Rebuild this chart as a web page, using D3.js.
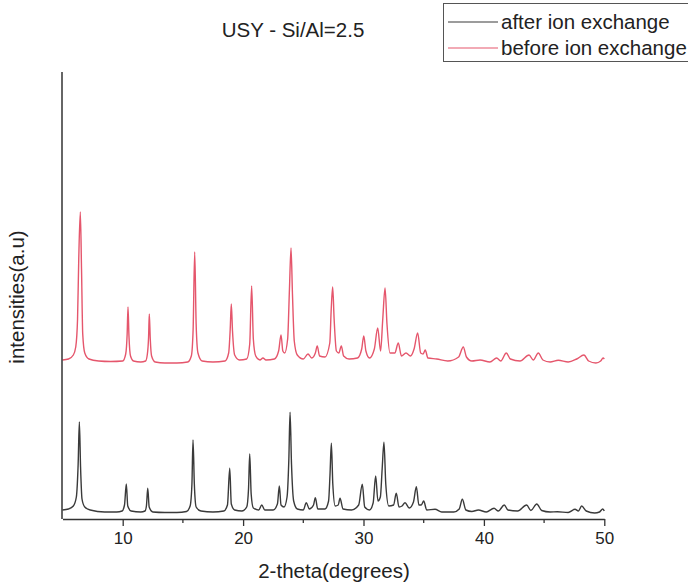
<!DOCTYPE html>
<html>
<head>
<meta charset="utf-8">
<script src="https://cdn.jsdelivr.net/npm/d3@7"></script>
<style>
  html, body { margin: 0; padding: 0; background: #ffffff; }
  svg { display: block; }
  text { font-family: "Liberation Sans", Arial, sans-serif; fill: #222; }
</style>
</head>
<body>
<svg id="chart" width="688" height="582"></svg>
<script>
// ---- data (2-theta in degrees, intensity in arbitrary units as plotted) ----
const title = "USY - Si/Al=2.5";
const xLabel = "2-theta(degrees)";
const yLabel = "intensities(a.u)";
const seriesNames = ["after ion exchange", "before ion exchange"];
const xTicks = [10, 20, 30, 40, 50];
const xMinorTicks = [15, 25, 35, 45];

// after ion exchange (black trace)
const afterIonExchange = [
  [5.0, 9], [5.5, 10], [5.9, 13], [6.15, 22], [6.3, 55], [6.4, 97], [6.5, 52], [6.62, 20], [6.85, 12], [7.3, 9],
  [8.5, 7], [9.5, 7], [9.95, 8], [10.15, 14], [10.3, 35], [10.42, 13], [10.7, 8], [11.5, 7], [11.85, 8], [11.97, 13],
  [12.08, 30.7], [12.2, 12], [12.5, 7], [13.5, 6.5], [14.5, 6.5], [15.3, 7.5], [15.6, 13], [15.75, 35], [15.84, 79], [15.95, 35],
  [16.1, 12], [16.5, 8], [17.5, 7], [18.4, 8], [18.7, 14], [18.89, 50.7], [19.02, 15], [19.3, 9], [19.9, 8], [20.3, 12],
  [20.45, 30], [20.55, 65], [20.67, 25], [20.85, 11], [21.3, 9], [21.55, 14], [21.8, 9], [22.5, 9], [22.85, 15], [23.01, 33],
  [23.15, 14], [23.4, 12], [23.65, 22], [23.8, 60], [23.9, 106.7], [24.02, 55], [24.2, 18], [24.5, 10], [25.0, 9], [25.25, 16.3],
  [25.5, 10], [25.85, 14], [26.0, 21.3], [26.2, 10], [26.8, 10], [27.1, 18], [27.22, 45], [27.33, 75.7], [27.45, 35], [27.65, 13],
  [27.9, 14], [28.05, 20.7], [28.3, 10], [29.0, 9], [29.6, 14], [29.9, 34.7], [30.1, 12], [30.5, 9], [30.8, 16], [31.01, 43],
  [31.2, 18], [31.4, 22], [31.55, 50], [31.7, 76.7], [31.85, 35], [32.1, 13], [32.5, 14], [32.72, 25.7], [32.95, 12], [33.2, 13],
  [33.45, 16.3], [33.8, 11], [34.15, 17], [34.39, 32.3], [34.6, 14], [34.8, 14], [35.0, 18], [35.25, 9], [35.94, 9.7], [36.5, 7],
  [37.5, 7], [37.95, 10], [38.21, 19.7], [38.5, 9], [39.0, 7.5], [39.54, 9], [40.2, 7], [40.84, 10.7], [41.2, 8], [41.69, 14],
  [42.0, 9], [42.8, 8], [43.55, 14], [43.9, 8.5], [44.39, 15], [44.8, 8.5], [45.5, 7], [46.1, 7.3], [47.0, 6.5], [47.57, 9.7],
  [47.85, 8], [48.12, 13], [48.5, 8], [49.2, 6], [49.6, 7], [49.87, 10], [50.0, 8]
];

// before ion exchange (red trace, offset as plotted)
const beforeIonExchange = [
  [5.0, 159], [5.5, 160], [5.9, 164], [6.1, 172], [6.25, 200], [6.35, 260], [6.48, 307], [6.58, 250], [6.68, 185], [6.85, 166],
  [7.2, 160], [8.0, 158], [9.0, 157.5], [10.0, 158], [10.25, 165], [10.37, 185], [10.44, 212], [10.52, 183], [10.65, 163], [10.9, 158],
  [11.5, 157], [11.9, 158], [12.05, 165], [12.15, 182], [12.21, 205], [12.29, 180], [12.4, 163], [12.7, 157], [13.5, 156], [14.5, 156],
  [15.4, 157], [15.7, 163], [15.85, 190], [15.98, 267], [16.1, 195], [16.25, 166], [16.6, 158], [17.5, 157], [18.5, 158], [18.8, 166],
  [18.93, 190], [19.02, 215], [19.12, 188], [19.3, 164], [19.7, 159], [20.3, 160], [20.55, 175], [20.71, 233], [20.85, 180], [21.05, 163],
  [21.4, 159], [21.65, 161], [21.9, 159], [22.6, 160], [22.95, 168], [23.15, 184], [23.3, 168], [23.45, 166], [23.7, 180], [23.85, 230],
  [23.98, 271], [24.1, 225], [24.25, 178], [24.5, 164], [25.0, 160], [25.39, 165], [25.7, 161], [26.0, 166], [26.16, 173], [26.35, 163],
  [26.8, 162], [27.2, 176], [27.32, 210], [27.44, 232], [27.56, 200], [27.75, 168], [27.95, 166], [28.16, 173], [28.35, 163], [28.8, 160],
  [29.5, 161], [29.85, 170], [30.02, 183], [30.2, 168], [30.5, 161], [30.9, 170], [31.18, 191], [31.42, 168], [31.6, 200], [31.79, 231],
  [31.95, 195], [32.2, 166], [32.6, 166], [32.89, 176], [33.15, 163], [33.53, 166], [33.9, 163], [34.2, 170], [34.5, 186], [34.75, 166],
  [34.95, 165], [35.13, 169], [35.35, 161], [36.08, 160], [37.0, 158], [37.9, 162], [38.29, 172], [38.55, 162], [39.0, 158], [39.68, 159],
  [40.5, 157], [41.06, 161], [41.4, 158], [41.86, 166], [42.2, 160], [43.0, 158], [43.75, 164], [44.1, 159], [44.52, 166], [44.9, 159],
  [45.5, 157], [46.18, 158.7], [47.0, 157], [47.71, 160], [48.31, 164], [48.7, 158], [49.3, 156], [49.7, 158], [49.9, 161], [50.0, 160]
];

// ---- drawing ----
const svg = d3.select("#chart");
const x = d3.scaleLinear().domain([5, 50]).range([62.5, 604.3]);
const y = d3.scaleLinear().domain([0, 447]).range([519, 72]);

const line = d3.line()
  .x(d => x(d[0]))
  .y(d => y(d[1]))
  .curve(d3.curveMonotoneX);

svg.append("path")
  .datum(afterIonExchange)
  .attr("fill", "none")
  .attr("stroke", "#3a3a3a")
  .attr("stroke-width", 1.4)
  .attr("stroke-linejoin", "round")
  .attr("d", line);

svg.append("path")
  .datum(beforeIonExchange)
  .attr("fill", "none")
  .attr("stroke", "#e5566c")
  .attr("stroke-width", 1.4)
  .attr("stroke-linejoin", "round")
  .attr("d", line);

// x axis
const xAxis = d3.axisBottom(x).tickValues(xTicks).tickSize(7).tickSizeOuter(0).tickPadding(6).tickFormat(d3.format("d"));
const gx = svg.append("g").attr("transform", `translate(0,${y(0)})`).call(xAxis);
gx.select(".domain").attr("stroke", "#333").attr("stroke-width", 1.5);
gx.selectAll(".tick line").attr("stroke", "#333").attr("stroke-width", 1.3);
gx.selectAll(".tick text").style("font-size", "17px").style("font-family", "Liberation Sans, Arial, sans-serif").attr("fill", "#222");
gx.selectAll(".minor").data(xMinorTicks).enter().append("line")
  .attr("class", "minor")
  .attr("x1", d => x(d)).attr("x2", d => x(d))
  .attr("y1", 0).attr("y2", 4)
  .attr("stroke", "#333").attr("stroke-width", 1.3);

// y axis (line only)
svg.append("line")
  .attr("x1", x(5) - 0.5).attr("x2", x(5) - 0.5)
  .attr("y1", y(447)).attr("y2", y(0))
  .attr("stroke", "#333").attr("stroke-width", 1.5);

// title
svg.append("text")
  .attr("x", 293).attr("y", 37)
  .attr("text-anchor", "middle")
  .style("font-size", "20.5px")
  .text(title);

// axis labels
svg.append("text")
  .attr("x", 334).attr("y", 578)
  .attr("text-anchor", "middle")
  .style("font-size", "20.5px")
  .text(xLabel);

svg.append("text")
  .attr("transform", "translate(24,297) rotate(-90)")
  .attr("text-anchor", "middle")
  .style("font-size", "20.5px")
  .text(yLabel);

// legend
const lg = svg.append("g");
lg.append("rect")
  .attr("x", 443.5).attr("y", 3.5).attr("width", 260).attr("height", 58)
  .attr("fill", "none").attr("stroke", "#555").attr("stroke-width", 1);
const legendColors = ["#3a3a3a", "#e5566c"];
seriesNames.forEach((name, i) => {
  const cy = 22 + i * 26;
  lg.append("line")
    .attr("x1", 448).attr("x2", 498).attr("y1", cy).attr("y2", cy)
    .attr("stroke", legendColors[i]).attr("stroke-width", 1.2);
  lg.append("text")
    .attr("x", 501).attr("y", cy + 7)
    .style("font-size", "20.5px")
    .text(name);
});
</script>
</body>
</html>
